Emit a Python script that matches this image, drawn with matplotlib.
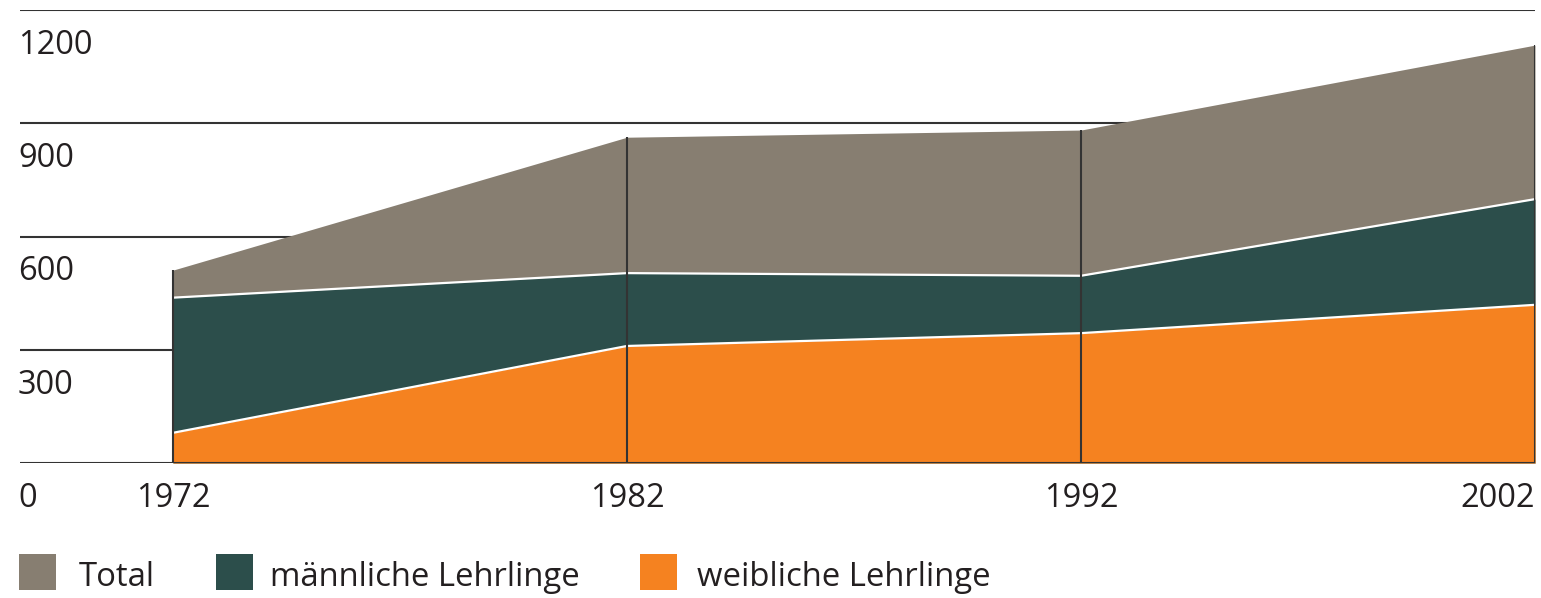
import matplotlib
matplotlib.use("Agg")
import matplotlib.pyplot as plt
from matplotlib.patches import Rectangle

years = [1972, 1982, 1992, 2002]
total = [511, 863, 882, 1107]
maennlich = [438, 503, 496, 699]
weiblich = [80, 310, 344, 419]
yticks = [0, 300, 600, 900, 1200]
series_names = ["Total", "männliche Lehrlinge", "weibliche Lehrlinge"]
colors = ["#877e71", "#2c4e4b", "#f58220"]

plt.rcParams['font.family'] = ['Open Sans', 'DejaVu Sans']
TXT = "#231f20"
LINE = "#333333"

W, H = 1541, 598
fig = plt.figure(figsize=(W / 100, H / 100), dpi=100)
left, right, top, bot = 20, 1535, 10, 463
ax = fig.add_axes([left / W, 1 - bot / H, (right - left) / W, (bot - top) / H])
px_per_year = (1535 - 173) / (years[-1] - years[0])
ax.set_xlim(years[0] - (173 - left) / px_per_year, years[-1])
ax.set_ylim(0, 1200)
ax.axis('off')

# gridlines
for v in yticks:
    ax.axhline(v, color=LINE, lw=1.5, zorder=1 if v > 0 else 6)

# areas
for vals, c in zip([total, maennlich, weiblich], colors):
    ax.fill_between(years, 0, vals, color=c, lw=0, zorder=2)
ax.plot(years, maennlich, color="white", lw=1.6, zorder=3)
ax.plot(years, weiblich, color="white", lw=1.6, zorder=3)
ax.vlines(years, 0, total, color=LINE, lw=1.5, zorder=5)

# y labels below their gridlines
for v in yticks:
    ax.annotate(str(v), xy=(0, v), xycoords=('axes fraction', 'data'),
                xytext=(-2, -19), textcoords='offset pixels', ha='left', va='top',
                fontsize=23.5, color=TXT)

# x labels
for i, yr in enumerate(years):
    ha = 'right' if i == len(years) - 1 else 'center'
    ax.annotate(str(yr), xy=(yr, 0), xycoords='data',
                xytext=(0, -19), textcoords='offset pixels', ha=ha, va='top',
                fontsize=23.5, color=TXT)

# legend
sq_x = [19, 216, 640]
txt_x = [79, 270, 697]
for name, c, sx, tx in zip(series_names, colors, sq_x, txt_x):
    fig.add_artist(Rectangle((sx / W, 1 - 590 / H), 37 / W, 36 / H,
                             transform=fig.transFigure, color=c, lw=0))
    fig.text(tx / W, 1 - 577 / H, name, ha='left', va='center',
             fontsize=23.7, color=TXT)

fig.savefig("out.png", dpi=100)
